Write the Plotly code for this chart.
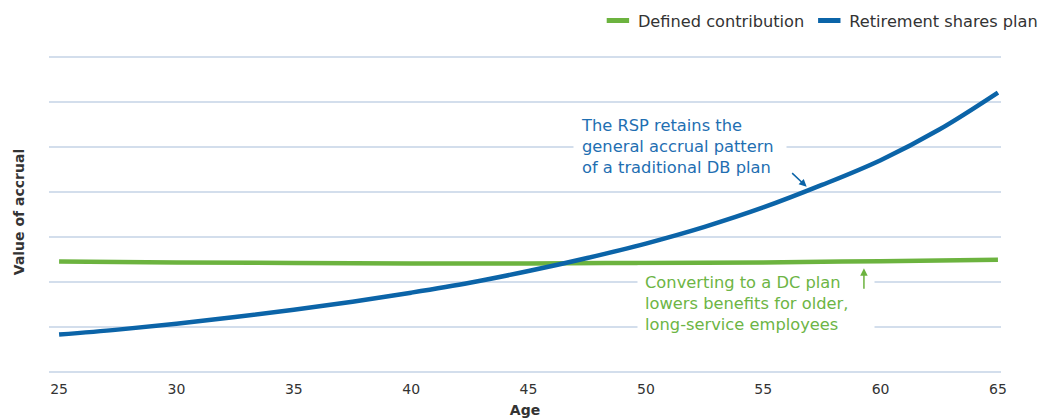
import plotly.graph_objects as go

# Accrual value by age for the two plan designs
ages_rsp = [25, 27.5, 30, 32.5, 35, 37.5, 40, 42.5, 45, 47.5, 50, 52.5, 55, 57.5, 60, 62.5, 65]
rsp_values = [0.83, 0.94, 1.07, 1.22, 1.38, 1.56, 1.76, 1.98, 2.24, 2.53, 2.85, 3.22, 3.65, 4.15, 4.70, 5.38, 6.20]

ages_dc = [25, 30, 35, 40, 45, 50, 55, 60, 65]
dc_values = [2.45, 2.43, 2.42, 2.41, 2.41, 2.42, 2.43, 2.46, 2.49]

x_ticks = [25, 30, 35, 40, 45, 50, 55, 60, 65]
y_grid = [0, 1, 2, 3, 4, 5, 6, 7]

GREEN = "#6cb33f"
BLUE = "#0b64a8"
BLUE_TEXT = "#1f6fb2"
GREEN_TEXT = "#6db545"
GRID = "#d3deec"
TEXT = "#333333"
FONT = "DejaVu Sans"

fig = go.Figure()

fig.add_trace(go.Scatter(
    x=ages_dc, y=dc_values, mode="lines", line=dict(color=GREEN, width=4.5, shape="spline"),
    showlegend=False, hoverinfo="skip"))
fig.add_trace(go.Scatter(
    x=ages_rsp, y=rsp_values, mode="lines", line=dict(color=BLUE, width=4.5, shape="spline"),
    showlegend=False, hoverinfo="skip"))

# legend entries with short thick swatches
fig.add_trace(go.Scatter(
    x=[None], y=[None], mode="markers", name="Defined contribution",
    marker=dict(symbol="line-ew", size=18, line=dict(color=GREEN, width=5))))
fig.add_trace(go.Scatter(
    x=[None], y=[None], mode="markers", name="Retirement shares plan",
    marker=dict(symbol="line-ew", size=18, line=dict(color=BLUE, width=5))))

fig.update_layout(
    width=1045, height=420,
    margin=dict(l=49, r=44, t=52, b=48, autoexpand=False),
    paper_bgcolor="white", plot_bgcolor="white",
    font=dict(family=FONT, color=TEXT, size=13),
    legend=dict(
        orientation="h", xref="container", yref="container",
        x=0.998, xanchor="right", y=0.992, yanchor="top",
        font=dict(family=FONT, size=16.2, color=TEXT),
        itemwidth=30, tracegroupgap=0, bgcolor="rgba(0,0,0,0)",
    ),
    xaxis=dict(
        range=[24.57, 65.13], tickvals=x_ticks, ticktext=[str(t) for t in x_ticks],
        showgrid=False, zeroline=False, showline=False, ticks="",
        tickfont=dict(family=FONT, size=14, color=TEXT), ticklabelstandoff=7,
        title=dict(text="Age", font=dict(family=FONT, size=14, color=TEXT, weight="bold"), standoff=9),
        fixedrange=True,
    ),
    yaxis=dict(
        range=[0, 7.1], tickvals=y_grid, showticklabels=False, ticks="",
        showgrid=True, gridcolor=GRID, gridwidth=1.6,
        zeroline=True, zerolinecolor=GRID, zerolinewidth=1.6, showline=False,
        title=dict(text="Value of accrual", font=dict(family=FONT, size=14, color=TEXT, weight="bold"), standoff=20),
        fixedrange=True,
    ),
)

fig.add_annotation(
    x=46.9, y=5, xref="x", yref="y", xanchor="left", yanchor="middle",
    text="The RSP retains the<br>general accrual pattern<br>of a traditional DB plan",
    showarrow=False, align="left", width=198, borderpad=7, bgcolor="white",
    font=dict(family=FONT, size=16.3, color=BLUE_TEXT))
fig.add_annotation(
    x=56.85, y=4.11, xref="x", yref="y", text="", showarrow=True,
    ax=-16, ay=-15, arrowhead=2, arrowsize=1, arrowwidth=1.5, arrowcolor=BLUE)

fig.add_annotation(
    x=49.62, y=1.53, xref="x", yref="y", xanchor="left", yanchor="middle",
    text="Converting to a DC plan<br>lowers benefits for older,<br>long-service employees",
    showarrow=False, align="left", width=222, borderpad=7, bgcolor="white",
    font=dict(family=FONT, size=16.3, color=GREEN_TEXT))
fig.add_annotation(
    x=59.29, y=2.30, xref="x", yref="y", text="", showarrow=True,
    ax=0, ay=22, arrowhead=2, arrowsize=1, arrowwidth=1.5, arrowcolor=GREEN)

fig.write_html("out.html")
